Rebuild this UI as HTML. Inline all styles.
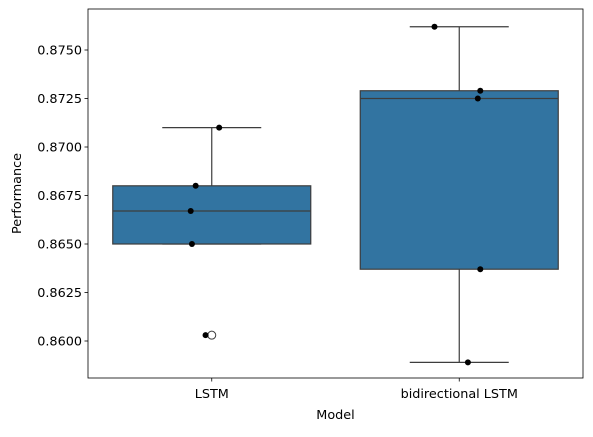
<!DOCTYPE html>
<html><head><meta charset="utf-8"><style>
body{margin:0;background:#fff;font-family:"Liberation Sans","DejaVu Sans",sans-serif;}
svg text{font-family:"DejaVu Sans","Liberation Sans",sans-serif;font-size:12.8px;fill:#000;}
</style></head><body>
<svg id="chart" width="593" height="432" xmlns="http://www.w3.org/2000/svg"></svg>
<script>
const categories=["LSTM","bidirectional LSTM"];
const q1=[0.8650,0.8637];
const medians=[0.8667,0.8725];
const q3=[0.8680,0.8729];
const whiskerLow=[0.8650,0.8589];
const whiskerHigh=[0.8710,0.8762];
const outliers=[[0.8603],[]];
const pointsLSTM=[0.8710,0.8680,0.8667,0.8650,0.8603];
const pointsBiLSTM=[0.8762,0.8729,0.8725,0.8637,0.8589];
const jitterLSTM=[0.03,-0.065,-0.085,-0.08,-0.025];
const jitterBiLSTM=[-0.10,0.085,0.075,0.085,0.035];
const yTicks=[0.8600,0.8625,0.8650,0.8675,0.8700,0.8725,0.8750];

const svg=document.getElementById('chart');
const NS="http://www.w3.org/2000/svg";
const L=88,R=583,T=9,B=378;
const y=v=>341-(v-0.86)/0.0025*48.5;
const x=i=>L+(R-L)*(i+0.5)/2;
const bw=(R-L)/2*0.8;
function el(t,a,p){const e=document.createElementNS(NS,t);for(const k in a)e.setAttribute(k,a[k]);(p||svg).appendChild(e);return e;}

yTicks.forEach(v=>{
  const g=el('g',{});
  
  
  el('line',{x1:L-3.5,x2:L,y1:y(v),y2:y(v),stroke:'#000','stroke-width':0.8},g);
  const t=el('text',{x:L-6,y:y(v)+4.5,'text-anchor':'end'},g);t.textContent=v.toFixed(4);
});
categories.forEach((c,i)=>{
  const g=el('g',{});
  
  
  const cx=x(i),s='#3d3d3d';
  el('line',{x1:cx,x2:cx,y1:y(q3[i]),y2:y(whiskerHigh[i]),stroke:s,'stroke-width':1.2},g);
  el('line',{x1:cx,x2:cx,y1:y(q1[i]),y2:y(whiskerLow[i]),stroke:s,'stroke-width':1.2},g);
  el('line',{x1:cx-bw/4,x2:cx+bw/4,y1:y(whiskerHigh[i]),y2:y(whiskerHigh[i]),stroke:s,'stroke-width':1.2},g);
  el('line',{x1:cx-bw/4,x2:cx+bw/4,y1:y(whiskerLow[i]),y2:y(whiskerLow[i]),stroke:s,'stroke-width':1.2},g);
  el('rect',{x:cx-bw/2,y:y(q3[i]),width:bw,height:y(q1[i])-y(q3[i]),fill:'#3274a1',stroke:s,'stroke-width':1.2},g);
  el('line',{x1:cx-bw/2,x2:cx+bw/2,y1:y(medians[i]),y2:y(medians[i]),stroke:s,'stroke-width':1.2},g);
  outliers[i].forEach(o=>el('circle',{cx:cx,cy:y(o),r:4,fill:'#fff',stroke:s,'stroke-width':1},g));
  el('line',{x1:cx,x2:cx,y1:B,y2:B+3.5,stroke:'#000','stroke-width':0.8});
  const t=el('text',{x:cx,y:B+20,'text-anchor':'middle'});t.textContent=c;
  
  
});
[[pointsLSTM,jitterLSTM],[pointsBiLSTM,jitterBiLSTM]].forEach(([pts,jit],i)=>{
  pts.forEach((v,k)=>{
    const c=el('circle',{cx:x(i)+jit[k]*(R-L)/2,cy:y(v),r:3,fill:'#000'});
    
    
  });
});
const frame=el('rect',{x:L,y:T,width:R-L,height:B-T,fill:'none',stroke:'#000','stroke-width':0.8});


const xt=el('text',{x:(L+R)/2,y:419,'text-anchor':'middle'});xt.textContent='Model';


const yt=el('text',{x:21,y:(T+B)/2,'text-anchor':'middle',transform:'rotate(-90 21 '+((T+B)/2)+')'});yt.textContent='Performance';


</script>
</body></html>
